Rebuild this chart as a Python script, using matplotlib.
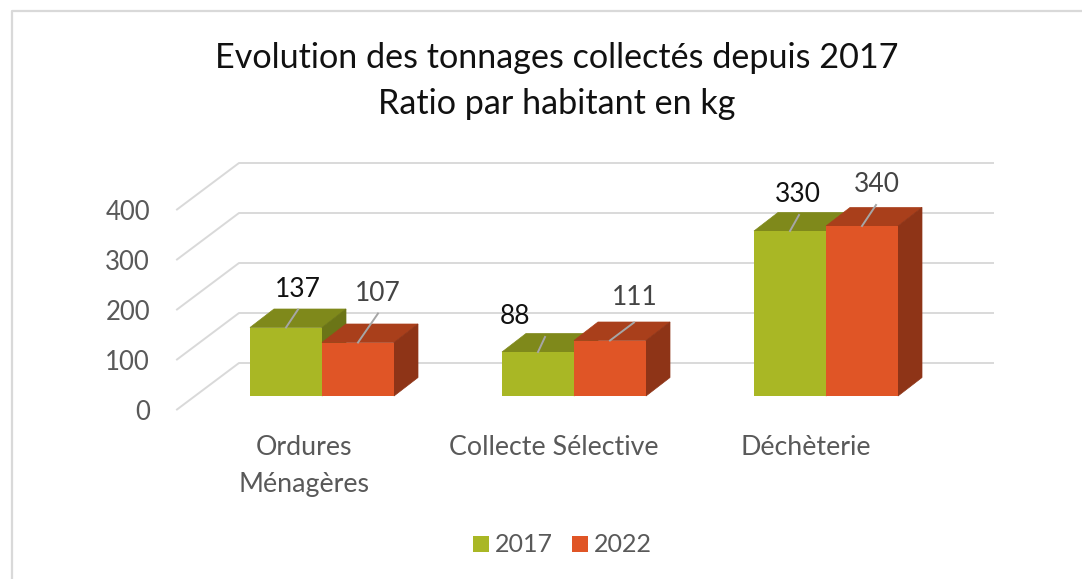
import numpy as np
import matplotlib
matplotlib.use("Agg")
import matplotlib.pyplot as plt
from matplotlib.patches import Polygon, Rectangle

plt.rcParams['font.family'] = ['Lato', 'DejaVu Sans']

W, H = 1082, 579

categories = ["Ordures\nMénagères", "Collecte Sélective", "Déchèterie"]
years = ["2017", "2022"]
values_2017 = [137, 88, 330]
values_2022 = [107, 111, 340]
yticks = [0, 100, 200, 300, 400]

face = ["#A9B725", "#E05526"]
top = ["#7F891B", "#A93F1B"]
side = ["#6B7517", "#8E3417"]
label_col = ["#111111", "#444444"]

# leader end and label centre, px from the middle of the bar top
leader_end = [[(12, 18), (7, 15), (9, 16)], [(20, 29), (24, 18), (14, 21)]]
label_pos = [[(12, 38), (-23, 36), (8, 37)], [(20, 49), (25, 43), (15, 42)]]
cat_shift = [-18, -20, -20]

# 1 category = 252 px, 1 unit of value = 0.5 px
px_x = 1 / 252.0
px_y = 2.0
x0 = 322
y0 = 396

fig = plt.figure(figsize=(W / 100, H / 100), dpi=100)
ax = fig.add_axes([0, 0, 1, 1])
ax.set_xlim(-x0 * px_x, (W - x0) * px_x)
ax.set_ylim(-(H - y0) * px_y, y0 * px_y)
ax.axis("off")

bar_w = 72 * px_x
dx = 24 * px_x
dy = 18.5 * px_y
# back wall sits behind the bars
wall_dx = 62 * px_x
wall_dy = 33 * px_y
wall_left = (177 - x0) * px_x
wall_right = (993 - x0) * px_x

# outer frame, only the left and top edges are in the picture
ax.plot(np.array([12, 12, W]) * px_x - x0 * px_x,
        (y0 - np.array([H, 10.5, 10.5])) * px_y,
        color="#D9D9D9", lw=1.6, zorder=0)

for v in yticks:
    yb = v + wall_dy
    ax.plot([wall_left, wall_left + wall_dx, wall_right], [yb - 46.5 * px_y, yb, yb],
            color="#D9D9D9", lw=1.4, zorder=1)
    ax.text(wall_left - 27 * px_x, yb - 46.5 * px_y - 2.5 * px_y, str(v), ha="right", va="center",
            fontsize=18.5, color="#595959", zorder=5)

x = np.arange(len(categories))
series = [values_2017, values_2022]

for s, vals in enumerate(series):
    for i, v in enumerate(vals):
        left = x[i] - bar_w + s * bar_w
        ax.add_patch(Polygon([(left, v), (left + bar_w, v), (left + bar_w + dx, v + dy), (left + dx, v + dy)],
                             fc=top[s], ec=top[s], lw=0.5, zorder=3 + s))
        ax.add_patch(Polygon([(left + bar_w, 0), (left + bar_w + dx, dy), (left + bar_w + dx, v + dy), (left + bar_w, v)],
                             fc=side[s], ec=side[s], lw=0.5, zorder=3 + s))
        ax.bar(left, v, width=bar_w, align="edge", color=face[s], zorder=3.5 + s)
        # leader line and value
        lx = left + bar_w / 2
        ex, ey = leader_end[s][i]
        tx, ty = label_pos[s][i]
        ax.plot([lx, lx + ex * px_x], [v, v + ey * px_y], color="#A6A6A6", lw=1.4, zorder=6)
        ax.text(lx + tx * px_x, v + ty * px_y, str(v), ha="center", va="center",
                fontsize=19, color=label_col[s], zorder=7)

for i, c in enumerate(categories):
    ax.text(x[i] + cat_shift[i] * px_x, -39 * px_y, c, ha="center", va="top",
            fontsize=19.3, color="#595959", linespacing=1.6, zorder=5)

ax.text(235 * px_x, (y0 - 81) * px_y, "Evolution des tonnages collectés depuis 2017\nRatio par habitant en kg",
        ha="center", va="center", fontsize=24.6, color="#111111", linespacing=1.5)

# legend
for s, yr in enumerate(years):
    lx = (473 + s * 99 - x0) * px_x
    ax.add_patch(Rectangle((lx, (y0 - 552) * px_y), 16 * px_x, 16 * px_y, fc=face[s], ec="none"))
    ax.text(lx + 22 * px_x, (y0 - 545) * px_y, yr, ha="left", va="center", fontsize=18, color="#595959")

fig.savefig("out.png", dpi=100)
